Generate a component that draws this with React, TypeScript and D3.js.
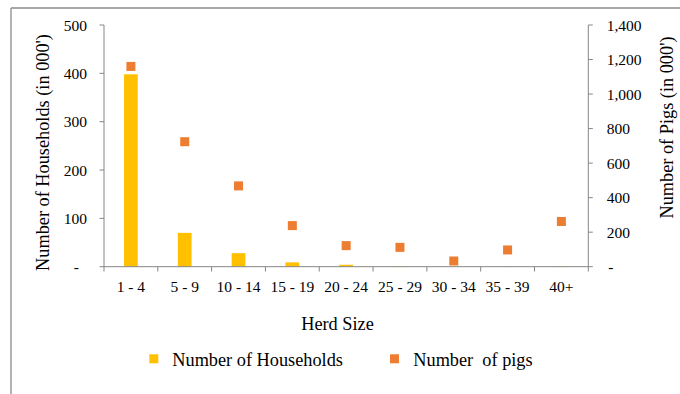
import React from "react";
import * as d3 from "d3";

const categories = ["1 - 4", "5 - 9", "10 - 14", "15 - 19", "20 - 24", "25 - 29", "30 - 34", "35 - 39", "40+"];
const households = [398, 70, 28, 9, 4, 1, 0.3, 0.5, 1];
const pigs = [1160, 724, 468, 238, 122, 112, 33, 97, 262];
const leftTicks = [0, 100, 200, 300, 400, 500];
const rightTicks = [0, 200, 400, 600, 800, 1000, 1200, 1400];
const legendLabels = ["Number of Households", "Number  of pigs"];

const W = 680;
const H = 394;
const plot = { left: 104, right: 588.3, top: 25, bottom: 266.7 };
const YELLOW = "#FFC000";
const ORANGE = "#ED7D31";
const AXIS = "#868686";
const FONT = "'Liberation Serif', 'Times New Roman', serif";

export default function App() {
  const x = d3.scaleBand<string>().domain(categories).range([plot.left, plot.right]).padding(0);
  const yL = d3.scaleLinear().domain([0, 500]).range([plot.bottom, plot.top]);
  const yR = d3.scaleLinear().domain([0, 1400]).range([plot.bottom, plot.top]);
  const bw = x.bandwidth() * 0.255;
  const fmt = d3.format(",");
  const sq = 9;
  const boundaries = [...categories.map((c) => x(c) as number), plot.right];

  return (
    <svg
      width={W}
      height={H}
      style={{ position: "absolute", left: 0, top: 0, background: "#fff" }}
      fontFamily={FONT}
    >
      {/* frame */}
      <line x1={11} y1={8} x2={11} y2={H} stroke="#8a8a8a" strokeWidth={1.3} />
      <line x1={11} y1={8} x2={W} y2={8} stroke="#8a8a8a" strokeWidth={1.3} />

      {/* bars */}
      {categories.map((c, i) => (
        <rect
          key={c}
          x={(x(c) as number) + x.bandwidth() / 2 - bw / 2}
          y={yL(households[i])}
          width={bw}
          height={plot.bottom - yL(households[i])}
          fill={YELLOW}
        />
      ))}

      {/* axes */}
      <line x1={plot.left} y1={plot.top} x2={plot.left} y2={plot.bottom} stroke={AXIS} />
      <line x1={plot.right} y1={plot.top} x2={plot.right} y2={plot.bottom} stroke={AXIS} />
      <line x1={plot.left} y1={plot.bottom} x2={plot.right} y2={plot.bottom} stroke={AXIS} />
      {leftTicks.map((t) => (
        <g key={"l" + t}>
          <line x1={plot.left - 4.5} x2={plot.left} y1={yL(t)} y2={yL(t)} stroke={AXIS} />
          <text
            x={87}
            dx={t === 0 ? -8 : 0}
            y={yL(t)}
            textAnchor="end"
            dominantBaseline="central"
            fontSize={15.5}
            fill="#000"
          >
            {t === 0 ? "-" : fmt(t)}
          </text>
        </g>
      ))}
      {rightTicks.map((t) => (
        <g key={"r" + t}>
          <line x1={plot.right} x2={plot.right + 4.5} y1={yR(t)} y2={yR(t)} stroke={AXIS} />
          <text
            x={606.7}
            dx={t === 0 ? 1.5 : 0}
            y={yR(t)}
            textAnchor="start"
            dominantBaseline="central"
            fontSize={15.5}
            fill="#000"
          >
            {t === 0 ? "-" : fmt(t)}
          </text>
        </g>
      ))}
      {boundaries.map((b, i) => (
        <line key={"b" + i} x1={b} x2={b} y1={plot.bottom} y2={plot.bottom + 4.8} stroke={AXIS} />
      ))}
      {categories.map((c) => (
        <text
          key={"c" + c}
          x={(x(c) as number) + x.bandwidth() / 2}
          y={286.5}
          textAnchor="middle"
          dominantBaseline="central"
          fontSize={15.5}
          fill="#000"
        >
          {c}
        </text>
      ))}

      {/* pig markers */}
      {categories.map((c, i) => (
        <rect
          key={"p" + c}
          x={(x(c) as number) + x.bandwidth() / 2 - sq / 2}
          y={yR(pigs[i]) - sq / 2}
          width={sq}
          height={sq}
          fill={ORANGE}
        />
      ))}

      {/* axis titles */}
      <text
        transform={`translate(42.5,152.5) rotate(-90)`}
        textAnchor="middle"
        dominantBaseline="central"
        fontSize={18.3}
        fill="#000"
      >
        Number of Households (in 000')
      </text>
      <text
        transform={`translate(666.5,127.5) rotate(-90)`}
        textAnchor="middle"
        dominantBaseline="central"
        fontSize={18.3}
        fill="#000"
      >
        Number of Pigs (in 000')
      </text>
      <text x={337.5} y={330} textAnchor="middle" fontSize={18.3} fill="#000">
        Herd Size
      </text>

      {/* legend */}
      <rect x={149.3} y={354.3} width={9} height={9} fill={YELLOW} />
      <text x={172.3} y={366} fontSize={18.3} fill="#000">
        {legendLabels[0]}
      </text>
      <rect x={390} y={354.3} width={9} height={9} fill={ORANGE} />
      <text x={413.3} y={366} fontSize={18.3} fill="#000" style={{ whiteSpace: "pre" }}>
        {legendLabels[1]}
      </text>
    </svg>
  );
}
